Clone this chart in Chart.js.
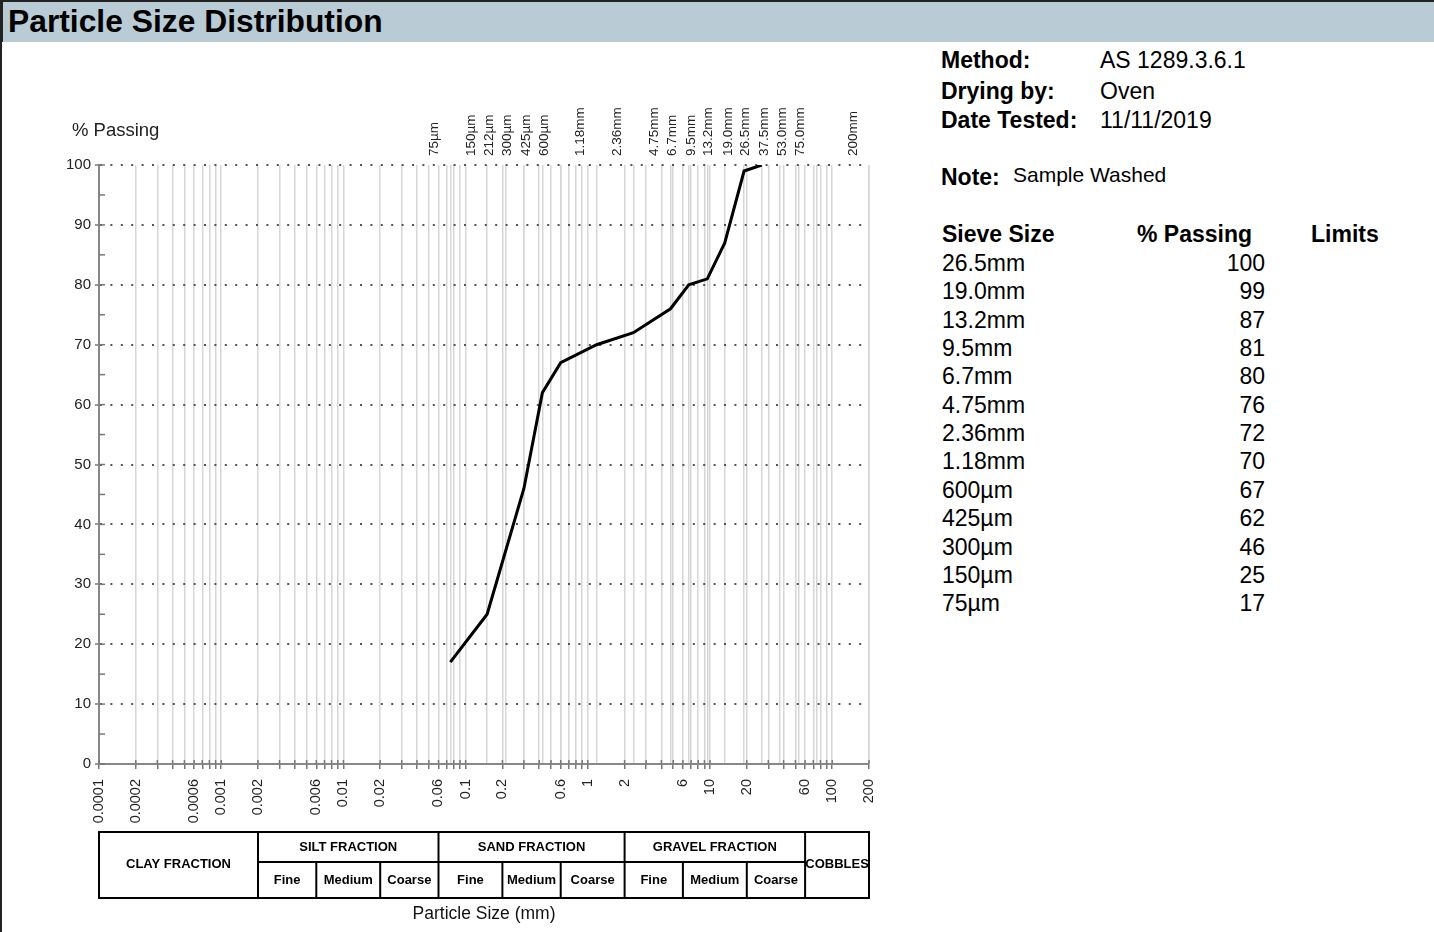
<!DOCTYPE html>
<html>
<head>
<meta charset="utf-8">
<script src="https://cdn.jsdelivr.net/npm/chart.js@4.4.1/dist/chart.umd.min.js"></script>
<style>
  body { margin: 0; width: 1434px; height: 932px; overflow: hidden; background: #fff;
         font-family: "Liberation Sans", Arial, sans-serif; color: #000; position: relative; }
  #header { position: absolute; left: 0; top: 0; width: 1434px; height: 42px; box-sizing: border-box;
            background: #b9cbd5; border-top: 2px solid #222; border-left: 3px solid #222; }
  #header h1 { margin: 0; position: absolute; left: 5px; top: 0; font-size: 31.8px; line-height: 38px; font-weight: bold; }
  #leftEdge { position: absolute; left: 0; top: 0; width: 2px; height: 932px; background: #222; }
  .t { position: absolute; font-size: 23px; line-height: 28px; white-space: nowrap; }
  .b { font-weight: bold; }
  .r { text-align: right; }
</style>
</head>
<body>
<div id="header"><h1>Particle Size Distribution</h1></div>
<div id="leftEdge"></div>
<canvas id="gradingChart" width="920" height="890" style="position:absolute;left:0;top:42px;"></canvas>

<div class="t b" style="left:941px;top:46px;">Method:</div>
<div class="t" style="left:1100px;top:46px;">AS 1289.3.6.1</div>
<div class="t b" style="left:941px;top:77px;">Drying by:</div>
<div class="t" style="left:1100px;top:77px;">Oven</div>
<div class="t b" style="left:941px;top:106px;">Date Tested:</div>
<div class="t" style="left:1100px;top:106px;">11/11/2019</div>
<div class="t b" style="left:941px;top:163px;">Note:</div>
<div class="t" style="left:1013px;top:161px;font-size:21px;">Sample Washed</div>
<div class="t b" style="left:942px;top:220px;">Sieve Size</div>
<div class="t b" style="left:1137px;top:220px;">% Passing</div>
<div class="t b" style="left:1311px;top:220px;">Limits</div>
<div id="rows"></div>

<script>
// sieve results (mm, % passing)
const sieveSizes = [0.075, 0.15, 0.3, 0.425, 0.6, 1.18, 2.36, 4.75, 6.7, 9.5, 13.2, 19.0, 26.5];
const sieveLabels = ["75µm", "150µm", "300µm", "425µm", "600µm", "1.18mm", "2.36mm", "4.75mm", "6.7mm", "9.5mm", "13.2mm", "19.0mm", "26.5mm"];
const percentPassing = [17, 25, 46, 62, 67, 70, 72, 76, 80, 81, 87, 99, 100];

// sieve apertures marked along the top of the graph
const topSieveValues = [0.075, 0.15, 0.212, 0.3, 0.425, 0.6, 1.18, 2.36, 4.75, 6.7, 9.5, 13.2, 19.0, 26.5, 37.5, 53.0, 75.0, 200];
const topSieveLabels = ["75µm", "150µm", "212µm", "300µm", "425µm", "600µm", "1.18mm", "2.36mm", "4.75mm", "6.7mm", "9.5mm", "13.2mm", "19.0mm", "26.5mm", "37.5mm", "53.0mm", "75.0mm", "200mm"];

// labelled particle sizes on the bottom axis
const sizeTickLabels = ["0.0001", "0.0002", "0.0006", "0.001", "0.002", "0.006", "0.01", "0.02", "0.06", "0.1", "0.2", "0.6", "1", "2", "6", "10", "20", "60", "100", "200"];
const sizeMin = 0.0001;
const sizeMax = 200;

// soil fraction bands under the graph
const fractionNames = ["CLAY FRACTION", "SILT FRACTION", "SAND FRACTION", "GRAVEL FRACTION", "COBBLES"];
const fractionEdges = [0.0001, 0.002, 0.06, 2, 60, 200];
const subFractionNames = ["Fine", "Medium", "Coarse"];
const subFractionEdges = [0.002, 0.006, 0.02, 0.06, 0.2, 0.6, 2, 6, 20, 60];

const FONT = '"Liberation Sans", Arial, sans-serif';
Chart.defaults.font.family = FONT;

// results table on the right
const rowsBox = document.getElementById("rows");
for (let i = sieveSizes.length - 1, r = 0; i >= 0; i--, r++) {
  const top = 249 + r * 28.35;
  rowsBox.innerHTML +=
    `<div class="t" style="left:942px;top:${top}px;">${sieveLabels[i]}</div>` +
    `<div class="t r" style="left:1165px;width:100px;top:${top}px;">${percentPassing[i]}</div>`;
}

function drawLine(ctx, x1, y1, x2, y2) {
  ctx.beginPath();
  ctx.moveTo(x1, y1);
  ctx.lineTo(x2, y2);
  ctx.stroke();
}

const extrasPlugin = {
  id: "extras",
  afterDraw(chart) {
    const ctx = chart.ctx;
    const area = chart.chartArea;
    const xs = chart.scales.x;
    const ys = chart.scales.y;
    const px = (v) => xs.getPixelForValue(v);

    ctx.save();
    // small tick marks inside the axes
    ctx.strokeStyle = "#777";
    ctx.lineWidth = 1.5;
    ys.ticks.forEach((t) => {
      const y = ys.getPixelForValue(t.value);
      drawLine(ctx, area.left, y, area.left + 6, y);
    });
    xs.ticks.forEach((t) => {
      const x = px(t.value);
      drawLine(ctx, x, area.bottom, x, area.bottom - 4);
    });

    // y axis caption
    ctx.fillStyle = "#222";
    ctx.font = "18.5px " + FONT;
    ctx.textAlign = "left";
    ctx.textBaseline = "middle";
    ctx.fillText("% Passing", 72, 89);

    // fraction table
    const top = area.bottom + 68;
    const mid = top + 30;
    const bot = top + 66;
    ctx.strokeStyle = "#000";
    ctx.lineWidth = 2;
    ctx.strokeRect(px(fractionEdges[0]), top, px(sizeMax) - px(fractionEdges[0]), bot - top);
    fractionEdges.slice(1, -1).forEach((v) => drawLine(ctx, px(v), top, px(v), bot));
    drawLine(ctx, px(subFractionEdges[0]), mid, px(subFractionEdges[subFractionEdges.length - 1]), mid);
    subFractionEdges.forEach((v) => {
      if (!fractionEdges.includes(v)) drawLine(ctx, px(v), mid, px(v), bot);
    });

    ctx.fillStyle = "#000";
    ctx.font = "bold 13px " + FONT;
    ctx.textAlign = "center";
    fractionNames.forEach((name, i) => {
      const cx = (px(fractionEdges[i]) + px(fractionEdges[i + 1])) / 2;
      const single = i === 0 || i === fractionNames.length - 1;
      ctx.fillText(name, cx, single ? (top + bot) / 2 - 1 : (top + mid) / 2);
    });
    for (let j = 0; j < subFractionEdges.length - 1; j++) {
      const cx = (px(subFractionEdges[j]) + px(subFractionEdges[j + 1])) / 2;
      ctx.fillText(subFractionNames[j % 3], cx, (mid + bot) / 2);
    }

    ctx.font = "17.5px " + FONT;
    ctx.fillStyle = "#111";
    ctx.fillText("Particle Size (mm)", (area.left + area.right) / 2, bot + 16);
    ctx.restore();
  },
};

function sizeLabel(value) {
  const hit = sizeTickLabels.find((l) => Math.abs(parseFloat(l) - value) / value < 1e-6);
  return hit === undefined ? "" : hit;
}

new Chart(document.getElementById("gradingChart"), {
  type: "line",
  data: {
    datasets: [
      {
        data: sieveSizes.map((s, i) => ({ x: s, y: percentPassing[i] })),
        borderColor: "#000",
        borderWidth: 3,
        pointRadius: 0,
        tension: 0,
        fill: false,
      },
    ],
  },
  options: {
    responsive: false,
    animation: false,
    layout: { padding: { left: 0, right: 51, top: 0, bottom: 0 } },
    plugins: { legend: { display: false }, tooltip: { enabled: false } },
    scales: {
      x: {
        type: "logarithmic",
        position: "bottom",
        min: sizeMin,
        max: sizeMax,
        afterBuildTicks(scale) {
          const ticks = [];
          for (let e = -4; e <= 2; e++) {
            for (let k = 1; k <= 9; k++) {
              const v = parseFloat((k * Math.pow(10, e)).toPrecision(6));
              if (v <= sizeMax * 1.0000001) ticks.push({ value: v });
            }
          }
          scale.ticks = ticks;
        },
        afterFit(scale) {
          scale.height = 168;
          scale.paddingLeft = 0;
          scale.paddingRight = 0;
        },
        ticks: {
          autoSkip: false,
          minRotation: 90,
          maxRotation: 90,
          padding: 10,
          color: "#222",
          font: { size: 14.5 },
          callback: (value) => sizeLabel(value),
        },
        grid: { color: "#d6d6d6", lineWidth: 1.5, tickColor: "#777", tickLength: 5, tickWidth: 1.5 },
        border: { display: true, color: "#888", width: 2 },
      },
      x2: {
        type: "logarithmic",
        axis: "x",
        position: "top",
        min: sizeMin,
        max: sizeMax,
        afterBuildTicks(scale) {
          scale.ticks = topSieveValues.map((v) => ({ value: v }));
        },
        afterFit(scale) {
          scale.height = 123;
          scale.paddingLeft = 0;
          scale.paddingRight = 0;
        },
        ticks: {
          autoSkip: false,
          minRotation: 90,
          maxRotation: 90,
          padding: 9,
          color: "#222",
          font: { size: 13.5 },
          callback: (value, index) => topSieveLabels[index],
        },
        grid: { color: "#d6d6d6", lineWidth: 1.5, drawTicks: false },
        border: { display: false },
      },
      y: {
        min: 0,
        max: 100,
        afterFit(scale) {
          scale.width = 99;
          scale.paddingTop = 0;
          scale.paddingBottom = 0;
        },
        ticks: {
          stepSize: 5,
          padding: 4,
          color: "#222",
          font: { size: 15 },
          callback: (value) => (value % 10 === 0 ? String(value) : ""),
        },
        grid: {
          color: (c) => (c.tick && c.tick.value % 10 === 0 && c.tick.value > 0 ? "#555" : "rgba(0,0,0,0)"),
          lineWidth: 2,
          tickColor: (c) => (c.tick && c.tick.value % 10 === 0 ? "#777" : "rgba(0,0,0,0)"),
          tickLength: 4,
          tickWidth: 1.5,
        },
        border: { display: true, color: "#888", width: 2, dash: [2, 8.4] },
      },
    },
  },
  plugins: [extrasPlugin],
});
</script>
</body>
</html>
